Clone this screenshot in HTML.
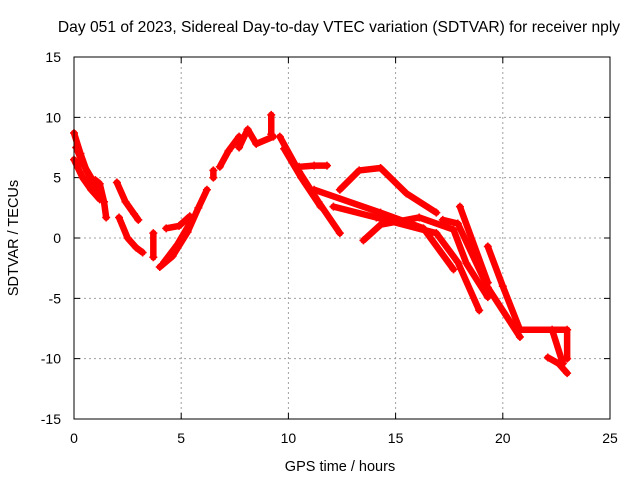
<!DOCTYPE html>
<html><head><meta charset="utf-8"><style>
body{margin:0;background:#fff;}
svg{display:block;font-family:"Liberation Sans",sans-serif;}
</style></head><body>
<svg id="chart" width="640" height="480" viewBox="0 0 640 480">
<text x="339" y="32" text-anchor="middle" font-size="15.6">Day 051 of 2023, Sidereal Day-to-day VTEC variation (SDTVAR) for receiver nply</text>
<text x="340" y="471" text-anchor="middle" font-size="14.5">GPS time / hours</text>
<text x="0" y="0" transform="translate(18,238) rotate(-90)" text-anchor="middle" font-size="14.5">SDTVAR / TECUs</text>
<g id="grid"></g><g id="ticks"></g><g id="marks"></g>
<rect x="74" y="57" width="536" height="362" fill="none" stroke="#000" stroke-width="1"/>
</svg>
<script>
const xTicks=[0,5,10,15,20,25];
const yTicks=[-15,-10,-5,0,5,10,15];
const track1=[[0,8.7],[0.3,7],[0.6,5.5],[1.0,4],[1.4,3]];
const track2=[[0,6.5],[0.4,5],[0.8,4],[1.2,3.2]];
const track2b=[[0.1,7.5],[0.4,6.2],[0.8,5],[1.1,4.2]];
const track3=[[1.0,4.8],[1.2,4.5],[1.4,3],[1.5,1.7]];
const track4=[[2.0,4.6],[2.4,3],[2.8,2],[3.0,1.5]];
const track5=[[2.1,1.7],[2.5,0],[2.9,-0.8],[3.2,-1.2]];
const track6=[[3.7,0.4],[3.7,-1.6]];
const track7=[[4.0,-2.4],[4.6,-1.5],[5.3,0.5],[5.8,2.5],[6.2,4.0]];
const track7b=[[4.2,-2.0],[4.8,-0.6],[5.5,1.5]];
const track8=[[4.3,0.8],[4.9,1.0],[5.4,1.8]];
const track9=[[6.5,5.0],[6.5,5.6]];
const track10=[[6.8,5.9],[7.2,7.2],[7.7,8.4]];
const track11=[[7.7,7.5],[8.1,9.0],[8.5,7.8],[9.3,8.4]];
const track12=[[9.2,10.2],[9.2,8.6]];
const track13=[[9.6,8.4],[10.5,5.5],[11.4,3.0],[12.4,0.4]];
const track13b=[[9.8,7.4],[10.6,5.0],[11.5,2.6]];
const track14=[[10.5,5.9],[11.2,6.0],[11.8,6.0]];
const track15=[[11.2,4.0],[14.3,2.1],[16.3,0.8],[17.7,-2.6]];
const track16=[[12.4,4.0],[13.3,5.6],[14.3,5.8],[15.5,3.7],[16.9,2.1]];
const track17=[[12.1,2.6],[14.1,1.7],[16.9,0.4],[17.9,-2.0],[18.9,-6.0]];
const track18=[[13.5,-0.2],[14.3,1.1],[16.1,1.7],[17.7,0.7],[18.3,-2.1],[19.3,-4.9]];
const track19=[[17.2,1.5],[17.9,1.2],[19.3,-4.1],[20.8,-8.2]];
const track20=[[18.0,2.6],[19.3,-3.7]];
const track21=[[19.3,-0.7],[20.0,-4.0],[20.8,-7.6],[22.3,-7.6],[22.8,-10.4]];
const track22=[[20.8,-7.6],[23.0,-7.6],[23.0,-10.0]];
const track23=[[22.1,-9.9],[22.6,-10.4],[23.0,-11.2]];
const tracks=[track1,track2,track2b,track3,track4,track5,track6,track7,track7b,track8,track9,track10,track11,track12,track13,track13b,track14,track15,track16,track17,track18,track19,track20,track21,track22,track23];
const NS='http://www.w3.org/2000/svg';
const X0=74,X1=610,Y0=419,Y1=57;
function sx(t){return X0+(t-0)/(25-0)*(X1-X0);}
function sy(v){return Y0-(v+15)/30*(Y0-Y1);}
const grid=document.getElementById('grid'),ticks=document.getElementById('ticks'),marks=document.getElementById('marks');
function mk(tag,attrs,parent){const e=document.createElementNS(NS,tag);for(const k in attrs)e.setAttribute(k,attrs[k]);parent.appendChild(e);return e;}
xTicks.forEach(t=>{const x=sx(t);
 if(t>0&&t<25){const g=mk('line',{x1:x,x2:x,y1:Y1,y2:Y0,stroke:'#a0a0a0','stroke-dasharray':'2,3'},grid);
 
 }
 const tk=mk('path',{d:`M${x},${Y0}v-6M${x},${Y1}v6`,stroke:'#000'},ticks);
 
 
 const l=mk('text',{x:x,y:443,'text-anchor':'middle','font-size':'14'},ticks);l.textContent=t;
 
 });
yTicks.forEach(v=>{const y=sy(v);
 if(v>-15&&v<15){const g=mk('line',{x1:X0,x2:X1,y1:y,y2:y,stroke:'#a0a0a0','stroke-dasharray':'2,3'},grid);
 
 }
 const tk=mk('path',{d:`M${X0},${y}h6M${X1},${y}h-6`,stroke:'#000'},ticks);
 
 
 const l=mk('text',{x:61,y:y+5,'text-anchor':'end','font-size':'14'},ticks);l.textContent=v;
 
 });
tracks.forEach((tr,i)=>{
 const pl=mk('polyline',{points:tr.map(p=>sx(p[0])+','+sy(p[1])).join(' '),fill:'none',stroke:'#ff0000','stroke-width':'6.5','stroke-linejoin':'round','stroke-linecap':'round'},marks);
 
 
 tr.forEach(p=>{const x=sx(p[0]),y=sy(p[1]);
  const m=mk('path',{d:`M${x-4},${y}h8M${x},${y-4}v8`,stroke:'#ff0000','stroke-width':'1.5'},marks);
  
  });
});
</script>
</body></html>
